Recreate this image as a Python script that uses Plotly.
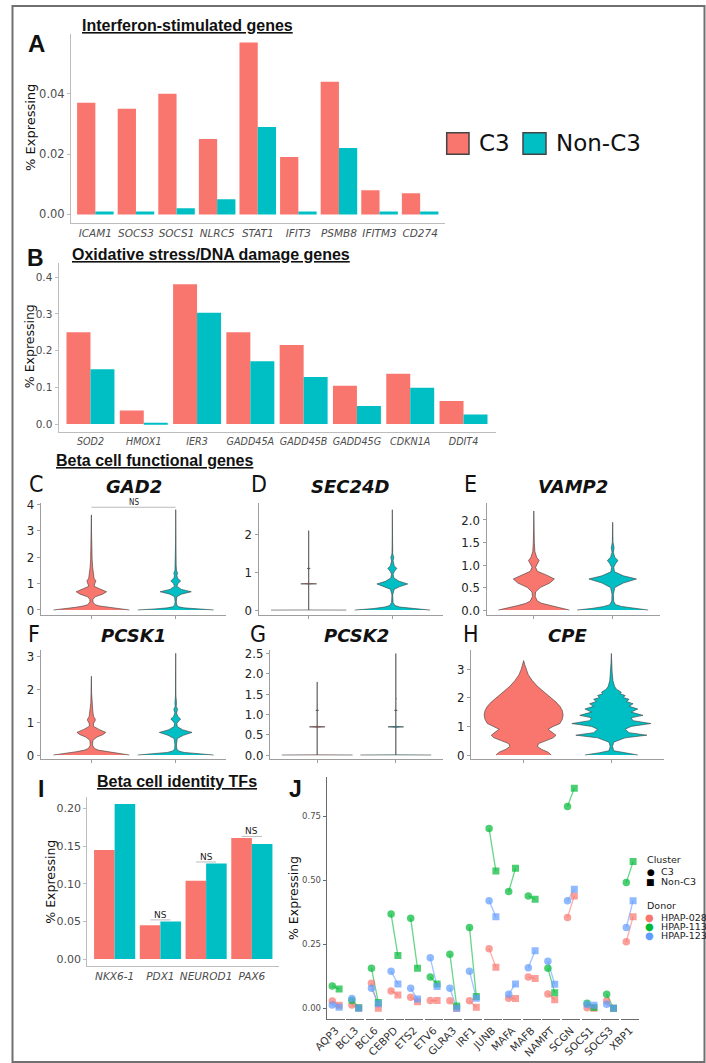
import plotly.graph_objects as go

W, H = 706, 1063
C3_COL = "#F8766D"
NC3_COL = "#00BFC4"
AXIS_GRAY = "#BDBDBD"
TICK_GRAY = "#4D4D4D"
BASE_FONT = "DejaVu Sans"
COND_FONT = "DejaVu Sans Condensed, Liberation Sans Narrow, DejaVu Sans"
HEAD_FONT = "Liberation Sans, Arial"

# ---- A: interferon-stimulated genes (% expressing) ----
isg_genes = ["ICAM1", "SOCS3", "SOCS1", "NLRC5", "STAT1", "IFIT3", "PSMB8", "IFITM3", "CD274"]
isg_c3 = [0.037, 0.035, 0.040, 0.025, 0.057, 0.019, 0.044, 0.008, 0.007]
isg_nc3 = [0.001, 0.001, 0.002, 0.005, 0.029, 0.001, 0.022, 0.001, 0.001]

# ---- B: oxidative stress / DNA damage genes ----
ox_genes = ["SOD2", "HMOX1", "IER3", "GADD45A", "GADD45B", "GADD45G", "CDKN1A", "DDIT4"]
ox_c3 = [0.250, 0.037, 0.381, 0.250, 0.215, 0.104, 0.137, 0.063]
ox_nc3 = [0.149, 0.003, 0.303, 0.171, 0.128, 0.049, 0.099, 0.026]

# ---- I: beta cell identity TFs ----
tf_genes = ["NKX6-1", "PDX1", "NEUROD1", "PAX6"]
tf_c3 = [0.145, 0.045, 0.104, 0.161]
tf_nc3 = [0.206, 0.050, 0.127, 0.153]
tf_ns = [False, True, True, True]

# ---- C-H: violin density profiles (expression level, relative half-width) ----
GAD2_C3_LEVEL = [0, 0.05, 0.1, 0.15, 0.2, 0.3, 0.4, 0.5, 0.6, 0.69, 0.8, 0.9, 1.0, 1.1, 1.2, 1.35, 1.6, 1.9, 2.2, 2.6, 3.0, 3.6]
GAD2_C3_WIDTH = [1.0, 0.72, 0.42, 0.22, 0.1, 0.04, 0.04, 0.1, 0.3, 0.4, 0.22, 0.07, 0.09, 0.12, 0.07, 0.05, 0.035, 0.02, 0.01, 0.005, 0.003, 0]
GAD2_NC3_LEVEL = [0, 0.04, 0.08, 0.12, 0.18, 0.3, 0.5, 0.6, 0.69, 0.78, 0.9, 1.0, 1.1, 1.2, 1.3, 1.39, 1.5, 1.7, 2.0, 2.5, 3.0, 3.8]
GAD2_NC3_WIDTH = [1.0, 0.55, 0.22, 0.08, 0.03, 0.015, 0.03, 0.15, 0.41, 0.15, 0.03, 0.06, 0.13, 0.05, 0.03, 0.05, 0.02, 0.012, 0.008, 0.004, 0.002, 0]

SEC24D_C3_LEVEL = [0, 0.003, 0.68, 0.693, 0.706, 1.09, 1.099, 1.108, 2.1]
SEC24D_C3_WIDTH = [1.0, 0.0, 0.0, 0.21, 0.0, 0.0, 0.04, 0.0, 0]
SEC24D_NC3_LEVEL = [0, 0.04, 0.08, 0.12, 0.2, 0.4, 0.55, 0.62, 0.69, 0.76, 0.85, 0.95, 1.03, 1.1, 1.17, 1.3, 1.39, 1.48, 1.7, 2.0, 2.65]
SEC24D_NC3_WIDTH = [1.0, 0.5, 0.2, 0.07, 0.02, 0.01, 0.05, 0.2, 0.41, 0.18, 0.04, 0.02, 0.06, 0.12, 0.05, 0.02, 0.04, 0.01, 0.005, 0.003, 0]

VAMP2_C3_LEVEL = [0, 0.05, 0.1, 0.15, 0.2, 0.3, 0.4, 0.5, 0.6, 0.69, 0.78, 0.86, 0.95, 1.03, 1.1, 1.17, 1.3, 1.5, 1.8, 2.2]
VAMP2_C3_WIDTH = [1.0, 0.75, 0.45, 0.22, 0.1, 0.04, 0.05, 0.18, 0.45, 0.58, 0.35, 0.1, 0.05, 0.1, 0.15, 0.08, 0.03, 0.015, 0.006, 0]
VAMP2_NC3_LEVEL = [0, 0.04, 0.08, 0.12, 0.2, 0.35, 0.5, 0.6, 0.69, 0.76, 0.85, 0.95, 1.03, 1.1, 1.17, 1.28, 1.39, 1.5, 1.7, 1.95]
VAMP2_NC3_WIDTH = [1.0, 0.55, 0.25, 0.08, 0.025, 0.02, 0.06, 0.3, 0.67, 0.3, 0.05, 0.03, 0.08, 0.15, 0.06, 0.02, 0.04, 0.01, 0.005, 0]

PCSK1_C3_LEVEL = [0, 0.05, 0.1, 0.15, 0.2, 0.3, 0.45, 0.55, 0.62, 0.69, 0.78, 0.88, 0.97, 1.05, 1.1, 1.17, 1.3, 1.45, 1.6, 1.9, 2.4]
PCSK1_C3_WIDTH = [1.0, 0.7, 0.4, 0.18, 0.08, 0.03, 0.04, 0.15, 0.3, 0.38, 0.2, 0.05, 0.06, 0.1, 0.1, 0.06, 0.04, 0.03, 0.015, 0.005, 0]
PCSK1_NC3_LEVEL = [0, 0.04, 0.08, 0.12, 0.18, 0.3, 0.5, 0.6, 0.69, 0.77, 0.87, 0.97, 1.04, 1.1, 1.17, 1.28, 1.39, 1.48, 1.6, 1.8, 2.2, 3.1]
PCSK1_NC3_WIDTH = [1.0, 0.55, 0.22, 0.08, 0.03, 0.02, 0.04, 0.2, 0.43, 0.18, 0.04, 0.03, 0.08, 0.13, 0.06, 0.02, 0.05, 0.015, 0.02, 0.006, 0.003, 0]

PCSK2_C3_LEVEL = [0, 0.003, 0.68, 0.693, 0.706, 1.09, 1.099, 1.108, 1.8]
PCSK2_C3_WIDTH = [1.0, 0.0, 0.0, 0.22, 0.0, 0.0, 0.04, 0.0, 0]
PCSK2_NC3_LEVEL = [0, 0.003, 0.68, 0.693, 0.706, 1.09, 1.099, 1.108, 1.38, 1.386, 1.392, 2.5]
PCSK2_NC3_WIDTH = [1.0, 0.0, 0.0, 0.22, 0.0, 0.0, 0.04, 0.0, 0.0, 0.02, 0.0, 0]

CPE_C3_LEVEL = [0, 0.1, 0.2, 0.3, 0.4, 0.5, 0.6, 0.69, 0.8, 0.9, 1.0, 1.1, 1.25, 1.4, 1.55, 1.7, 1.85, 2.0, 2.2, 2.4, 2.6, 2.8, 3.0, 3.15, 3.3]
CPE_C3_WIDTH = [0.7, 0.62, 0.45, 0.35, 0.38, 0.55, 0.75, 0.82, 0.72, 0.62, 0.75, 0.92, 0.98, 1.0, 0.98, 0.92, 0.82, 0.7, 0.52, 0.35, 0.22, 0.12, 0.06, 0.03, 0]
CPE_NC3_LEVEL = [0, 0.08, 0.15, 0.3, 0.45, 0.6, 0.693, 0.78, 0.9, 1.0, 1.099, 1.2, 1.3, 1.386, 1.5, 1.609, 1.7, 1.792, 1.87, 1.946, 2.01, 2.079, 2.14, 2.197, 2.3, 2.4, 2.6, 2.9, 3.2, 3.55]
CPE_NC3_WIDTH = [0.67, 0.3, 0.06, 0.03, 0.06, 0.35, 0.9, 0.45, 0.35, 0.5, 1.0, 0.55, 0.5, 0.8, 0.5, 0.67, 0.45, 0.55, 0.38, 0.45, 0.3, 0.35, 0.22, 0.25, 0.13, 0.08, 0.04, 0.02, 0.01, 0]

# ---- J: per-donor % expressing, C3 vs Non-C3 ----
j_genes = ["AQP3", "BCL3", "BCL6", "CEBPD", "ETS2", "ETV6", "GLRA3", "IRF1",
           "JUNB", "MAFA", "MAFB", "NAMPT", "SCGN", "SOCS1", "SOCS3", "XBP1"]
j_028_c3 = [0.028, 0.013, 0.098, 0.068, 0.043, 0.030, 0.029, 0.029, 0.233, 0.039, 0.122, 0.056, 0.355, 0.002, 0.029, 0.260]
j_028_nc3 = [0.012, 0.001, 0.000, 0.052, 0.026, 0.030, 0.000, 0.004, 0.160, 0.038, 0.116, 0.033, 0.439, 0.000, 0.000, 0.358]
j_113_c3 = [0.087, 0.030, 0.156, 0.368, 0.352, 0.122, 0.211, 0.316, 0.702, 0.456, 0.439, 0.156, 0.788, 0.020, 0.055, 0.491]
j_113_nc3 = [0.075, 0.002, 0.023, 0.206, 0.156, 0.095, 0.009, 0.046, 0.536, 0.547, 0.426, 0.061, 0.860, 0.003, 0.000, 0.573]
j_123_c3 = [0.013, 0.038, 0.078, 0.145, 0.078, 0.197, 0.078, 0.145, 0.420, 0.055, 0.158, 0.184, 0.420, 0.015, 0.016, 0.316]
j_123_nc3 = [0.004, 0.000, 0.018, 0.095, 0.036, 0.085, 0.000, 0.039, 0.358, 0.095, 0.225, 0.094, 0.465, 0.012, 0.000, 0.420]
donors = ["HPAP-028", "HPAP-113", "HPAP-123"]
donor_cols = ["#F8766D", "#00BA38", "#619CFF"]
donor_line_cols = ["rgba(248,118,109,0.6)", "rgba(0,186,56,0.6)", "rgba(97,156,255,0.6)"]


def xd(left, right):
    return [left / W, right / W]


def yd(top, bottom):
    return [1 - bottom / H, 1 - top / H]


def px(x):
    return x / W


def py(y):
    return 1 - y / H


fig = go.Figure()
lay = {}
annotations = []
shapes = []


def bar_panel(n, genes, c3, nc3, xdom, ydom, yrange, tickvals, ticktext, tfsize, lblsize):
    xa = "x" if n == 1 else f"x{n}"
    ya = "y" if n == 1 else f"y{n}"
    for vals, col in ((c3, C3_COL), (nc3, NC3_COL)):
        fig.add_trace(go.Bar(x=genes, y=vals, marker=dict(color=col, line=dict(width=0)),
                             xaxis=xa, yaxis=ya, showlegend=False))
    lay["xaxis" if n == 1 else f"xaxis{n}"] = dict(
        domain=xdom, anchor=ya, type="category", showline=True, linecolor=AXIS_GRAY,
        linewidth=1, ticks="", tickvals=genes, ticktext=[f"<i>{g}</i>" for g in genes],
        tickangle=0, tickfont=dict(family=BASE_FONT, size=lblsize, color=TICK_GRAY),
        showgrid=False, zeroline=False, range=[-0.6, len(genes) - 0.4])
    lay["yaxis" if n == 1 else f"yaxis{n}"] = dict(
        domain=ydom, anchor=xa, range=yrange, showline=True, linecolor=AXIS_GRAY,
        linewidth=1, ticks="outside", ticklen=3, tickcolor=AXIS_GRAY,
        tickvals=tickvals, ticktext=ticktext,
        tickfont=dict(family=BASE_FONT, size=tfsize, color=TICK_GRAY),
        showgrid=False, zeroline=False)


# A
bar_panel(1, isg_genes, isg_c3, isg_nc3, xd(71, 444.5), yd(34, 223), [-0.00285, 0.0598],
          [0, 0.02, 0.04], ["0.00", "0.02", "0.04"], 11.5, 10.5)
# B
bar_panel(2, ox_genes, ox_c3, ox_nc3, xd(58.5, 495.5), yd(262.7, 432.3), [-0.0226, 0.4395],
          [0, 0.1, 0.2, 0.3, 0.4], ["0.0", "0.1", "0.2", "0.3", "0.4"], 10.5, 9.6)
# I
bar_panel(9, tf_genes, tf_c3, tf_nc3, xd(87.2, 279.3), yd(796.7, 966), [-0.0093, 0.2158],
          [0, 0.05, 0.1, 0.15, 0.2], ["0.00", "0.05", "0.10", "0.15", "0.20"], 11, 10.5)

# NS brackets on I
for i, (g, a, b, ns) in enumerate(zip(tf_genes, tf_c3, tf_nc3, tf_ns)):
    if not ns:
        continue
    top = max(a, b) + 0.002
    shapes.append(dict(type="line", xref="x9", yref="y9", x0=i - 0.22, x1=i + 0.22,
                       y0=top, y1=top, line=dict(color="#BBBBBB", width=1)))
    annotations.append(dict(xref="x9", yref="y9", x=i, y=top, text="NS", showarrow=False,
                            yanchor="bottom", yshift=-2,
                            font=dict(family=BASE_FONT, size=9, color="#222222")))

# ---- violins ----
VLN_HALF = 0.45
vln_panels = [
    # n, title, (c3 level, c3 width), (nc3 level, nc3 width), xdom, ydom, yrange, ticks
    (3, "GAD2", (GAD2_C3_LEVEL, GAD2_C3_WIDTH), (GAD2_NC3_LEVEL, GAD2_NC3_WIDTH),
     (40.8, 226.3), (503.3, 615), [-0.19, 4.04], [0, 1, 2, 3, 4], ["0", "1", "2", "3", "4"]),
    (4, "SEC24D", (SEC24D_C3_LEVEL, SEC24D_C3_WIDTH), (SEC24D_NC3_LEVEL, SEC24D_NC3_WIDTH),
     (258.5, 442.5), (503.3, 615), [-0.13, 2.82], [0, 1, 2], ["0", "1", "2"]),
    (5, "VAMP2", (VAMP2_C3_LEVEL, VAMP2_C3_WIDTH), (VAMP2_NC3_LEVEL, VAMP2_NC3_WIDTH),
     (486.5, 660), (503.3, 615), [-0.11, 2.37], [0, 0.5, 1, 1.5, 2], ["0.0", "0.5", "1.0", "1.5", "2.0"]),
    (6, "PCSK1", (PCSK1_C3_LEVEL, PCSK1_C3_WIDTH), (PCSK1_NC3_LEVEL, PCSK1_NC3_WIDTH),
     (40.8, 226.3), (650, 759.3), [-0.13, 3.2], [0, 1, 2, 3], ["0", "1", "2", "3"]),
    (7, "PCSK2", (PCSK2_C3_LEVEL, PCSK2_C3_WIDTH), (PCSK2_NC3_LEVEL, PCSK2_NC3_WIDTH),
     (270, 443), (650, 759.3), [-0.106, 2.586], [0, 0.5, 1, 1.5, 2, 2.5],
     ["0.0", "0.5", "1.0", "1.5", "2.0", "2.5"]),
    (8, "CPE", (CPE_C3_LEVEL, CPE_C3_WIDTH), (CPE_NC3_LEVEL, CPE_NC3_WIDTH),
     (471, 664), (650, 759.3), [-0.15, 3.67], [0, 1, 2, 3], ["0", "1", "2", "3"]),
]

for n, title, c3p, nc3p, xdom, ydom, yrange, tv, tt in vln_panels:
    xa, ya = f"x{n}", f"y{n}"
    for pos, (lev, wid), col in ((1, c3p, C3_COL), (2, nc3p, NC3_COL)):
        xs = [pos + w * VLN_HALF for w in wid] + [pos - w * VLN_HALF for w in reversed(wid)]
        ys = list(lev) + list(reversed(lev))
        fig.add_trace(go.Scatter(x=xs, y=ys, mode="lines", fill="toself", fillcolor=col,
                                 line=dict(color="#3A3A3A", width=0.6), xaxis=xa, yaxis=ya,
                                 showlegend=False, hoverinfo="skip"))
    lay[f"xaxis{n}"] = dict(domain=xd(*xdom), anchor=ya, range=[0.4, 2.6], showline=True,
                            linecolor="#9E9E9E", linewidth=1, ticks="outside", ticklen=3,
                            tickcolor="#9E9E9E", tickvals=[1, 2], ticktext=["", ""],
                            showgrid=False, zeroline=False)
    lay[f"yaxis{n}"] = dict(domain=yd(*ydom), anchor=xa, range=yrange, showline=True,
                            linecolor="#9E9E9E", linewidth=1, ticks="outside", ticklen=3,
                            tickcolor="#9E9E9E", tickvals=tv, ticktext=tt,
                            tickfont=dict(family=COND_FONT, size=13, color="#222222"),
                            showgrid=False, zeroline=False)
    annotations.append(dict(xref=f"x{n} domain", yref="paper", x=0.5,
                            y=py(486.5 if ydom[0] < 600 else 635), text=f"<b><i>{title}</i></b>",
                            showarrow=False, xanchor="center", yanchor="middle",
                            font=dict(family=BASE_FONT, size=18, color="#111111")))

# NS bracket on GAD2
shapes.append(dict(type="line", xref="x3", yref="y3", x0=1, x1=2, y0=3.89, y1=3.89,
                   line=dict(color="#AAAAAA", width=0.8)))
annotations.append(dict(xref="x3", yref="y3", x=1.5, y=3.89, text="NS", showarrow=False,
                        yanchor="bottom", yshift=-1, borderpad=0,
                        font=dict(family=COND_FONT, size=8, color="#222222")))

# ---- J: faceted dot/line plot ----
J_YRANGE = [-0.043, 0.9035]
for k, g in enumerate(j_genes):
    n = 10 + k
    xa = f"x{n}"
    c = 335.7 + 19.6 * k
    series = ((j_028_c3, j_028_nc3), (j_113_c3, j_113_nc3), (j_123_c3, j_123_nc3))
    for d, (c3v, ncv) in enumerate(series):
        fig.add_trace(go.Scatter(x=[1, 2], y=[c3v[k], ncv[k]], mode="lines",
                                 line=dict(color=donor_line_cols[d], width=1.3),
                                 xaxis=xa, yaxis="y10", showlegend=False, hoverinfo="skip"))
    for d, (c3v, ncv) in enumerate(series):
        fig.add_trace(go.Scatter(x=[1, 2], y=[c3v[k], ncv[k]], mode="markers",
                                 marker=dict(color=donor_cols[d], size=[7.5, 7],
                                             symbol=["circle", "square"], line=dict(width=0)),
                                 xaxis=xa, yaxis="y10", showlegend=False, name=donors[d]))
    lay[f"xaxis{n}"] = dict(domain=xd(c - 9, c + 9), anchor="y10", range=[0.18, 2.82],
                            showline=True, linecolor="#6A6A6A", linewidth=1, ticks="",
                            tickvals=[1.5], ticktext=[g], tickangle=-45,
                            tickfont=dict(family=BASE_FONT, size=10.5, color="#333333"),
                            showgrid=False, zeroline=False)
lay["yaxis10"] = dict(domain=yd(777, 1019.3), anchor="x10", range=J_YRANGE, showline=True,
                      linecolor="#6A6A6A", linewidth=1, ticks="outside", ticklen=3,
                      tickcolor="#6A6A6A", tickvals=[0, 0.25, 0.5, 0.75],
                      ticktext=["0.00", "0.25", "0.50", "0.75"],
                      tickfont=dict(family=BASE_FONT, size=8.5, color=TICK_GRAY),
                      showgrid=False, zeroline=False)


# ---- text: panel letters, headings, axis titles ----
def txt(x, y, text, size, family=BASE_FONT, color="#111111", xanchor="center", angle=0):
    annotations.append(dict(xref="paper", yref="paper", x=px(x), y=py(y), text=text,
                            showarrow=False, xanchor=xanchor, yanchor="middle",
                            textangle=angle, font=dict(family=family, size=size, color=color)))


txt(36, 43, "<b>A</b>", 24, HEAD_FONT)
txt(35, 257.5, "<b>B</b>", 23, HEAD_FONT)
for lbl, x, y in (("C", 35.5, 483.5), ("D", 259, 483.5), ("E", 471, 483.5),
                  ("F", 33.5, 633.5), ("G", 258, 633.5), ("H", 470.5, 633.5)):
    txt(x, y, lbl, 23, COND_FONT)
txt(41, 789, "<b>I</b>", 23, HEAD_FONT)
txt(295, 789, "<b>J</b>", 23, HEAD_FONT)

txt(80, 26, "<b><u>Interferon-stimulated genes</u></b>", 16, HEAD_FONT, xanchor="left")
txt(70, 254, "<b><u>Oxidative stress/DNA damage genes</u></b>", 16, HEAD_FONT, xanchor="left")
txt(54, 461, "<b><u>Beta cell functional genes</u></b>", 16, HEAD_FONT, xanchor="left")
txt(94.6, 781, "<b><u>Beta cell identity TFs</u></b>", 16, HEAD_FONT, xanchor="left")

txt(31, 128, "% Expressing", 13, angle=-90)
txt(29.5, 346.7, "% Expressing", 12.5, angle=-90)
txt(51, 881.7, "% Expressing", 12.5, angle=-90)
txt(293, 898, "% Expressing", 12.5, angle=-90)

# ---- shared C3 / Non-C3 key ----
for (x0, x1), col in (((446.7, 469), C3_COL), ((523, 546), NC3_COL)):
    shapes.append(dict(type="rect", xref="paper", yref="paper", x0=px(x0), x1=px(x1),
                       y0=py(154.3), y1=py(132.7), fillcolor=col,
                       line=dict(color="#444444", width=1.5)))
txt(477, 143.5, "C3", 23, xanchor="left")
txt(554, 143.5, "Non-C3", 23, xanchor="left")

# ---- J legend ----
txt(645, 859.5, "Cluster", 9.5, color="#222222", xanchor="left")
txt(650.5, 871.7, "●", 9, color="#000000")
txt(658.5, 871.7, "C3", 9.5, color="#222222", xanchor="left")
txt(650.5, 881.7, "■", 9, color="#000000")
txt(658.5, 881.7, "Non-C3", 9.5, color="#222222", xanchor="left")
txt(645, 905, "Donor", 9.5, color="#222222", xanchor="left")
for d, yy in zip(range(3), (917, 926.3, 935.6)):
    txt(649.5, yy, "●", 10, color=donor_cols[d])
    txt(659, yy, donors[d], 9.5, color="#222222", xanchor="left")

# ---- outer frame ----
shapes.append(dict(type="rect", xref="paper", yref="paper", x0=px(12.5), x1=px(704.5),
                   y0=py(1062), y1=py(6), line=dict(color="#707070", width=2)))

fig.update_layout(
    width=W, height=H, margin=dict(l=0, r=0, t=0, b=0, autoexpand=False),
    paper_bgcolor="white", plot_bgcolor="white",
    barmode="group", bargap=0.1, bargroupgap=0,
    showlegend=False, font=dict(family=BASE_FONT),
    annotations=annotations, shapes=shapes, **lay)

fig.write_html("out.html")
